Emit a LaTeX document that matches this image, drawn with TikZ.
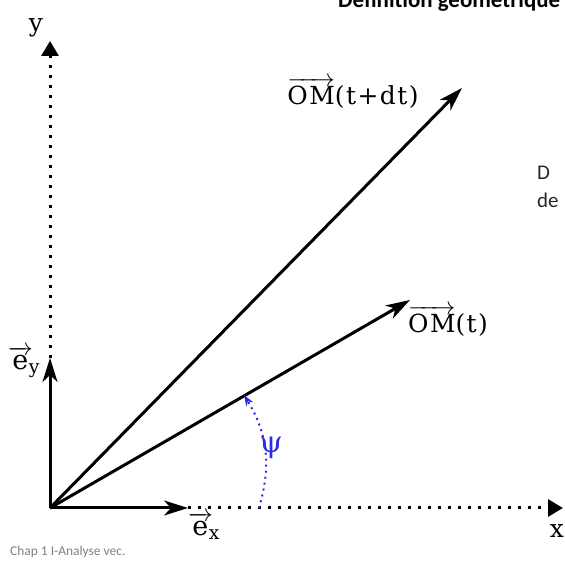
\documentclass[tikz,border=0pt]{standalone}
\usepackage{amsmath}
\usepackage{fontspec}
\newfontfamily\slidefont{Carlito}
\newfontfamily\labelfont[LetterSpace=6]{DejaVu Serif}
\newfontfamily\unitfont{DejaVu Serif}
\usetikzlibrary{arrows.meta}

\begin{document}
\begin{tikzpicture}[x=1bp,y=1bp,every node/.style={font=\fontsize{25}{30}\labelfont,inner sep=0},>=Stealth]
\path[use as bounding box] (0,0) rectangle (565,561);
\definecolor{psiblue}{HTML}{2B2BE6}
\definecolor{foot}{HTML}{7F7F7F}
\tikzset{vecline/.style={line width=3bp,-{Stealth[length=24bp,width=15bp,inset=7bp]}},
  axisline/.style={line width=3bp,dash pattern=on 3bp off 7bp,-{Triangle[length=15bp,width=17bp]}},
  anglearc/.style={psiblue,line width=2bp,dash pattern=on 2bp off 4bp,-{Stealth[length=11bp,width=8bp]}},
  unitlab/.style={font=\fontsize{27}{30}\unitfont}}
\coordinate (O) at (50,53);
\coordinate (Ex) at (188,53);
\coordinate (Ey) at (50,203);
\coordinate (Xend) at (563,53);
\coordinate (Yend) at (50,520);
\coordinate (Mt) at (410,261);
\coordinate (Mdt) at (462,473);
\coordinate (Pa) at (259,53);
\coordinate (Pb) at (244,166);
% axes
\draw[axisline] (Ex)--(Xend);
\draw[axisline] (Ey)--(Yend);
\draw[vecline] (O)--(Ex);
\draw[vecline] (O)--(Ey);
% position vectors
\draw[vecline] (O)--(Mt);
\draw[vecline] (O)--(Mdt);
\draw[anglearc] (Pa) to[bend right=24] (Pb);
\node (ylab) at (36,533) {y};
\node (xlab) at (557,30) {x};
\node[unitlab] (exlab) at (204,35) {$\overrightarrow{\text{\unitfont e}}_{\kern-4bp\text{\unitfont x}}$};
\node[unitlab] (eylab) at (24,199) {$\overrightarrow{\text{\unitfont e}}_{\kern-4bp\text{\unitfont y}}$};
\node (mdtlab) at (353,468) {$\overrightarrow{\text{\labelfont OM}}$(t+dt)};
\node (mtlab) at (448,240) {$\overrightarrow{\text{\labelfont OM}}$(t)};
\node[text=psiblue,font=\fontsize{30}{34}\labelfont] (psilab) at (271,113) {ψ};
% slide text
\node[anchor=base west,font=\fontsize{23}{28}\slidefont\bfseries] (title) at (338,553) {Définition géométrique};
\node[anchor=base west,text=black!85,font=\fontsize{21}{26}\slidefont] (txta) at (537,381) {D};
\node[anchor=base west,text=black!85,font=\fontsize{21}{26}\slidefont] (txtb) at (537,353) {de};
\node[anchor=base west,text=foot,font=\fontsize{13.5}{16}\slidefont] (footer) at (10,5) {Chap 1 I-Analyse vec.};
\end{tikzpicture}
\end{document}
